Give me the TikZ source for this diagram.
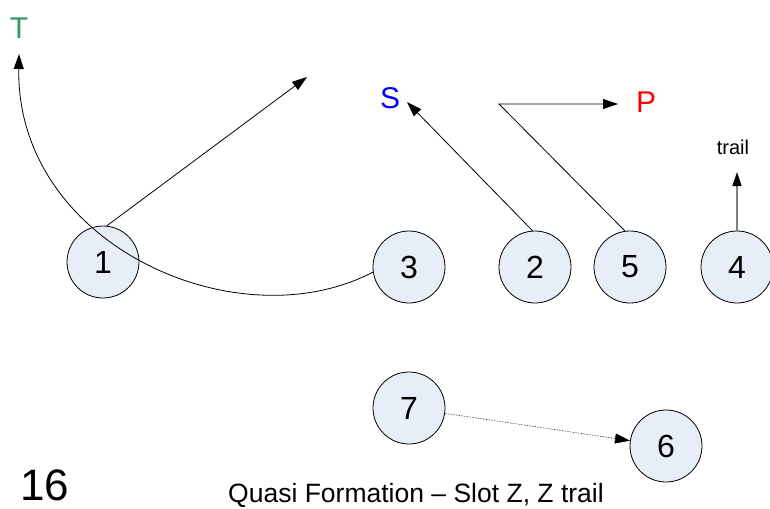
\documentclass[tikz,border=0pt]{standalone}
\usepackage{fontspec}
\setmainfont{Liberation Sans}
\usetikzlibrary{arrows.meta}
\definecolor{tgreen}{HTML}{339966}
\definecolor{cfill}{HTML}{E8EEF7}
\tikzset{
  player/.style={circle, draw=black, fill=cfill, line width=0.8pt, minimum size=72pt, inner sep=0pt, font=\fontsize{32}{32}\selectfont},
  lbl/.style={inner sep=0pt, font=\fontsize{30}{30}\selectfont},
  mv/.style={line width=0.8pt, -{Triangle[length=15pt,width=10pt]}},
}
\begin{document}
\begin{tikzpicture}[x=1pt,y=-1pt]
\useasboundingbox (0,0) rectangle (770,508);
\node[player] (n1) at (103,262) {1};
\node[player] (n3) at (409,267) {3};
\node[player] (n2) at (535,267) {2};
\node[player] (n5) at (630,267) {5};
\node[player] (n4) at (737,267) {4};
\node[player] (n7) at (409,408) {7};
\node[player] (n6) at (666,446) {6};
\node[lbl, text=tgreen] (T) at (19,28) {T};
\node[lbl, text=blue] (S) at (390,98) {S};
\node[lbl, text=red] (P) at (646,102) {P};
\node[inner sep=0pt, font=\fontsize{20}{20}\selectfont] (trail) at (733,147) {trail};
\coordinate (tT) at (19,54);
\coordinate (t1) at (307,77);
\coordinate (tS) at (407,102);
\coordinate (k5) at (499,104);
\coordinate (tP) at (618,104);
\coordinate (t4) at (737,172);
\draw[mv] (n3.188) .. controls (238,343) and (16,245) .. (tT);
\draw[mv] (n1.84) -- (t1);
\draw[mv] (n2.94) -- (tS);
\draw[mv] (n5.98) -- (k5) -- (tP);
\draw[line width=1.6pt, draw=gray, -{Triangle[length=14pt,width=9pt,fill=black,color=black]}] (n4.north) -- (t4);
\draw[line width=0.6pt, densely dotted, -{Triangle[length=15pt,width=10pt]}] (n7) -- (n6);
\node[inner sep=0pt, font=\fontsize{44}{44}\selectfont] (num) at (45,485) {16};
\node[inner sep=0pt, font=\fontsize{26.5}{26.5}\selectfont] (cap) at (416,495) {Quasi Formation – Slot Z, Z trail};
\end{tikzpicture}
\end{document}
